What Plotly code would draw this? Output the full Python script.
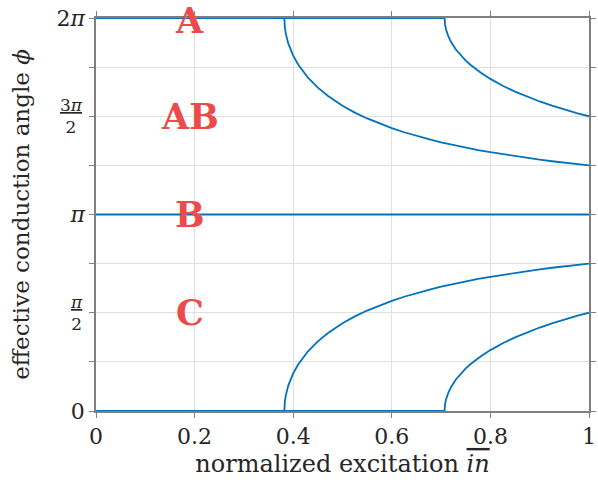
import math
import plotly.graph_objects as go

# data (phase in units of pi)
x_c1 = [0, 0.382, 0.383, 0.385, 0.39, 0.395, 0.40, 0.41, 0.42, 0.43, 0.45, 0.47, 0.5, 0.525, 0.55, 0.575,
        0.6, 0.625, 0.65, 0.675, 0.7, 0.725, 0.75, 0.775, 0.8, 0.825, 0.85, 0.875, 0.9, 0.925, 0.95, 0.975, 1.0]
low_c1 = [0, 0, 0.0460, 0.0795, 0.1292, 0.1638, 0.1917, 0.2366, 0.2729, 0.3037, 0.3546, 0.3959, 0.4463, 0.4813,
          0.5112, 0.5374, 0.5606, 0.5814, 0.6001, 0.6170, 0.6325, 0.6468, 0.6598, 0.6719, 0.6831, 0.6935, 0.7033,
          0.7125, 0.7211, 0.7290, 0.7366, 0.7438, 0.7505]
up_c1 = [2, 2, 1.9540, 1.9205, 1.8708, 1.8362, 1.8083, 1.7634, 1.7271, 1.6963, 1.6454, 1.6041, 1.5537, 1.5187,
         1.4888, 1.4626, 1.4394, 1.4186, 1.3999, 1.3830, 1.3675, 1.3532, 1.3402, 1.3281, 1.3169, 1.3065, 1.2967,
         1.2875, 1.2789, 1.2710, 1.2634, 1.2562, 1.2495]

x_c2 = [0, 0.707, 0.708, 0.71, 0.715, 0.72, 0.73, 0.74, 0.75, 0.76, 0.78, 0.8, 0.825, 0.85, 0.875, 0.9, 0.925,
        0.95, 0.975, 1.0]
low_c2 = [0, 0, 0.0338, 0.0585, 0.0953, 0.1212, 0.1602, 0.1908, 0.2166, 0.2392, 0.2776, 0.3100, 0.3447, 0.3747,
          0.4011, 0.4248, 0.4461, 0.4657, 0.4836, 0.5001]
up_c2 = [2, 2, 1.9662, 1.9415, 1.9047, 1.8788, 1.8398, 1.8092, 1.7834, 1.7608, 1.7224, 1.6900, 1.6553, 1.6253,
         1.5989, 1.5752, 1.5539, 1.5343, 1.5164, 1.4999]

x_mid = [0, 1]
mid = [1, 1]

region_labels = ["A", "AB", "B", "C"]
region_y = [2, 1.5, 1, 0.5]
region_x = 0.19

y_tick_units = [0, 0.25, 0.5, 0.75, 1, 1.25, 1.5, 1.75, 2]
y_tick_text = ["0", "", "", "", "<i>π</i>", "", "", "", "2<i>π</i>"]
frac_units = [0.5, 1.5]
frac_num = ["<i>π</i>", "3<i>π</i>"]
frac_den = ["2", "2"]
x_tick_vals = [0, 0.2, 0.4, 0.6, 0.8, 1]
x_tick_text = ["0", "0.2", "0.4", "0.6", "0.8", "1"]

PI = math.pi
BLUE = "#0072BD"
RED = "#EB4B4B"
FONT = "DejaVu Serif"
TXT = "#262626"

fig = go.Figure()
series = [
    (x_c1, low_c1), (x_c1, up_c1), (x_c2, low_c2), (x_c2, up_c2), (x_mid, mid)
]
for xs, ys in series:
    fig.add_trace(go.Scatter(
        x=xs, y=[v * PI for v in ys], mode="lines",
        line=dict(color=BLUE, width=1.8), cliponaxis=False, showlegend=False,
        hoverinfo="skip"))

for lab, yv in zip(region_labels, region_y):
    fig.add_annotation(x=region_x, y=yv * PI, text="<b>" + lab + "</b>", showarrow=False,
                       font=dict(family=FONT, size=35, color=RED), xanchor="center", yanchor="middle",
                       yshift=-2 if yv == 2 else 0)

for yv, num, den in zip(frac_units, frac_num, frac_den):
    fig.add_annotation(xref="paper", x=0, y=yv * PI, xanchor="right", yanchor="middle", xshift=-11,
                       text="<u>" + num + "</u><br>" + den, align="center", showarrow=False,
                       font=dict(family=FONT, size=17, color=TXT))

axis_common = dict(showline=True, linecolor="#7f7f7f", linewidth=1.5, mirror="ticks",
                   ticks="outside", ticklen=5, tickcolor="#7f7f7f", tickwidth=1,
                   showgrid=True, gridcolor="#e0e0e0", gridwidth=1, zeroline=False,
                   tickfont=dict(family=FONT, size=22, color=TXT))

fig.update_xaxes(range=[0, 1], tickvals=x_tick_vals, ticktext=x_tick_text,
                 title=dict(text="normalized excitation <span style='text-decoration:overline'><i>in</i></span>",
                            font=dict(family=FONT, size=24, color=TXT), standoff=7),
                 **axis_common)
fig.update_yaxes(range=[0, 2 * PI], tickvals=[v * PI for v in y_tick_units], ticktext=y_tick_text,
                 title=dict(text="effective conduction angle <i>ϕ</i>",
                            font=dict(family=FONT, size=23, color=TXT), standoff=20),
                 **axis_common)

fig.update_layout(width=598, height=488, margin=dict(l=96, r=2, t=18, b=77),
                  plot_bgcolor="white", paper_bgcolor="white")

fig.write_html("out.html")
